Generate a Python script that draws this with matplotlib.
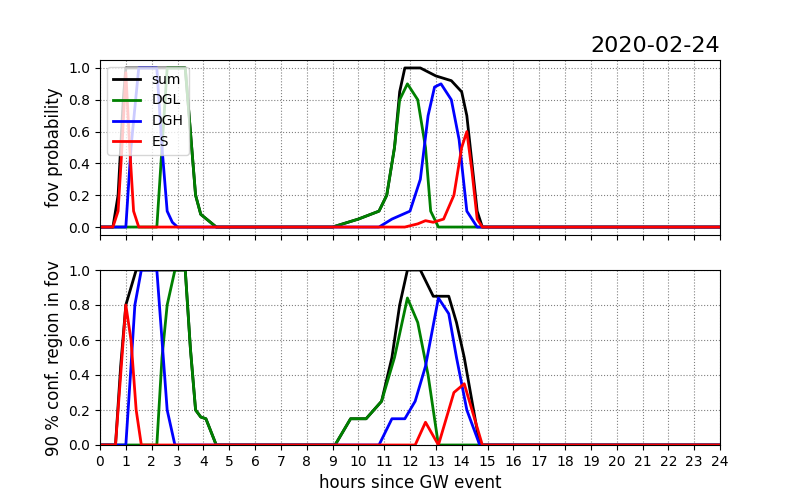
import matplotlib
matplotlib.use("Agg")
import matplotlib.pyplot as plt

# top panel: fov probability  (hours, value)
top_sum_x = [0, 0.5, 0.7, 0.9, 1.0, 3.3, 3.5, 3.7, 3.9, 4.2, 4.5, 9.0, 10.0, 10.8, 11.1, 11.4, 11.6, 11.8, 12.4, 13.0, 13.6, 14.0, 14.2, 14.4, 14.6, 14.8, 24]
top_sum_y = [0, 0, 0.2, 0.8, 1.0, 1.0, 0.6, 0.2, 0.08, 0.04, 0, 0, 0.05, 0.1, 0.2, 0.5, 0.85, 1.0, 1.0, 0.95, 0.92, 0.85, 0.7, 0.4, 0.1, 0, 0]
top_dgl_x = [0, 2.2, 2.4, 2.6, 3.3, 3.5, 3.7, 3.9, 4.2, 4.5, 9.0, 10.0, 10.8, 11.1, 11.4, 11.6, 11.9, 12.3, 12.6, 12.8, 13.1, 24]
top_dgl_y = [0, 0, 0.5, 1.0, 1.0, 0.6, 0.2, 0.08, 0.04, 0, 0, 0.05, 0.1, 0.2, 0.5, 0.8, 0.9, 0.8, 0.5, 0.1, 0, 0]
top_dgh_x = [0, 1.0, 1.2, 1.5, 2.2, 2.4, 2.6, 2.8, 3.0, 10.8, 11.3, 12.0, 12.4, 12.7, 12.95, 13.2, 13.6, 13.9, 14.2, 14.6, 24]
top_dgh_y = [0, 0, 0.5, 1.0, 1.0, 0.5, 0.1, 0.03, 0, 0, 0.05, 0.1, 0.3, 0.7, 0.88, 0.9, 0.8, 0.55, 0.1, 0, 0]
top_es_x = [0, 0.5, 0.7, 0.85, 1.0, 1.15, 1.3, 1.5, 11.8, 12.3, 12.6, 12.9, 13.3, 13.7, 14.0, 14.2, 14.4, 14.6, 14.8, 24]
top_es_y = [0, 0, 0.1, 0.5, 0.97, 0.5, 0.1, 0, 0, 0.02, 0.04, 0.03, 0.05, 0.2, 0.5, 0.6, 0.35, 0.05, 0, 0]

# bottom panel: 90 % conf. region in fov
bot_sum_x = [0, 0.6, 0.8, 1.0, 1.2, 1.4, 3.3, 3.5, 3.7, 3.9, 4.1, 4.5, 9.1, 9.7, 10.3, 10.9, 11.3, 11.6, 11.9, 12.4, 12.9, 13.5, 13.8, 14.1, 14.4, 14.7, 24]
bot_sum_y = [0, 0, 0.45, 0.8, 0.9, 1.0, 1.0, 0.55, 0.2, 0.16, 0.15, 0, 0, 0.15, 0.15, 0.25, 0.5, 0.8, 1.0, 1.0, 0.85, 0.85, 0.7, 0.5, 0.25, 0, 0]
bot_dgl_x = [0, 2.2, 2.4, 2.6, 2.9, 3.3, 3.5, 3.7, 3.9, 4.1, 4.5, 9.1, 9.7, 10.3, 10.9, 11.4, 11.9, 12.3, 12.7, 13.1, 24]
bot_dgl_y = [0, 0, 0.5, 0.8, 1.0, 1.0, 0.55, 0.2, 0.16, 0.15, 0, 0, 0.15, 0.15, 0.25, 0.5, 0.84, 0.7, 0.4, 0, 0]
bot_dgh_x = [0, 1.0, 1.2, 1.35, 1.6, 2.2, 2.4, 2.6, 2.9, 10.8, 11.3, 11.8, 12.2, 12.6, 13.1, 13.5, 13.8, 14.2, 14.7, 24]
bot_dgh_y = [0, 0, 0.45, 0.8, 1.0, 1.0, 0.6, 0.2, 0, 0, 0.15, 0.15, 0.25, 0.45, 0.84, 0.75, 0.5, 0.2, 0, 0]
bot_es_x = [0, 0.6, 0.8, 1.0, 1.2, 1.4, 1.6, 12.2, 12.6, 13.1, 13.4, 13.7, 14.1, 14.4, 14.8, 24]
bot_es_y = [0, 0, 0.4, 0.8, 0.6, 0.2, 0, 0, 0.13, 0, 0.15, 0.3, 0.35, 0.2, 0, 0]

fig, (ax1, ax2) = plt.subplots(2, 1, sharex=True, figsize=(8, 5), dpi=100)
ax1.plot(top_sum_x, top_sum_y, color="black", lw=2, label="sum")
ax1.plot(top_dgl_x, top_dgl_y, color="green", lw=2, label="DGL")
ax1.plot(top_dgh_x, top_dgh_y, color="blue", lw=2, label="DGH")
ax1.plot(top_es_x, top_es_y, color="red", lw=2, label="ES")
ax1.set_ylim(-0.05, 1.05)
ax1.set_ylabel("fov probability", fontsize=12)
ax1.legend(loc="upper left")
ax1.grid(color="gray", linestyle=":")
ax1.set_title("2020-02-24", loc="right", fontsize=16)

ax2.plot(bot_sum_x, bot_sum_y, color="black", lw=2)
ax2.plot(bot_dgl_x, bot_dgl_y, color="green", lw=2)
ax2.plot(bot_dgh_x, bot_dgh_y, color="blue", lw=2)
ax2.plot(bot_es_x, bot_es_y, color="red", lw=2)
ax2.set_ylim(0, 1)
ax2.set_ylabel("90 % conf. region in fov", fontsize=12)
ax2.grid(color="gray", linestyle=":")
ax2.set_xlim(0, 24)
ax2.set_xticks(range(0, 25))
ax2.set_xlabel("hours since GW event", fontsize=12)

plt.savefig("out.png")
